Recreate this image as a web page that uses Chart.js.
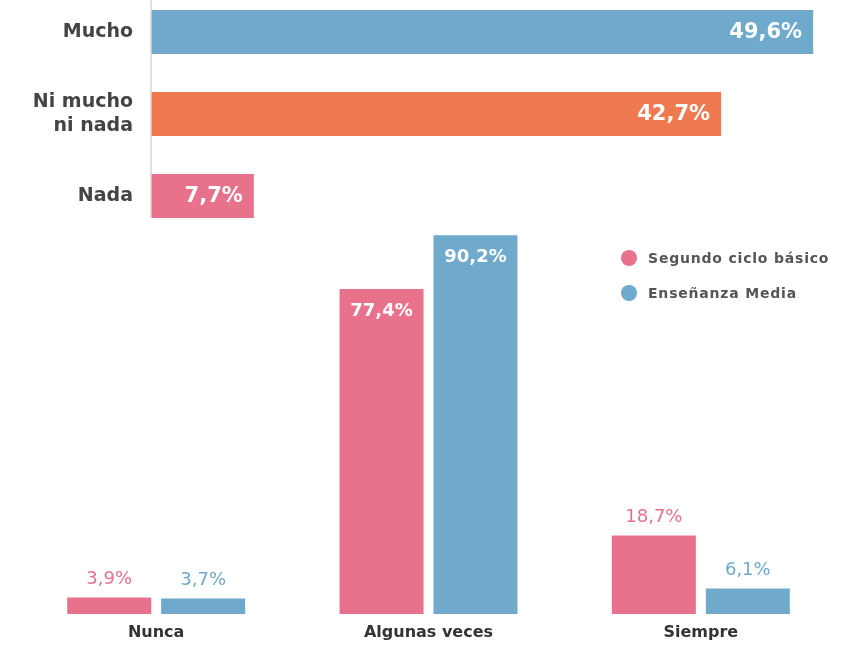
<!DOCTYPE html>
<html>
<head>
<meta charset="utf-8">
<script src="https://cdn.jsdelivr.net/npm/chart.js@4/dist/chart.umd.min.js"></script>
<style>
  body { margin: 0; background: #fff; overflow: hidden; }
  #wrap { position: relative; width: 846px; height: 648px; overflow: hidden; }
  #top { position: absolute; left: 0; top: -10px; }
  #bottom { position: absolute; left: 0; top: 200px; }
  #legend { position: absolute; left: 621px; top: 240px; font-family: 'DejaVu Sans', sans-serif; font-size: 14px; font-weight: bold; letter-spacing: 0.8px; color: #555; }
  #legend div { height: 35px; display: flex; align-items: center; }
  #legend span.dot { display: inline-block; width: 16px; height: 16px; border-radius: 50%; margin-right: 11px; }
</style>
</head>
<body>
<div id="wrap">
  <canvas id="top" width="846" height="250"></canvas>
  <canvas id="bottom" width="846" height="448"></canvas>
  <div id="legend"></div>
</div>
<script>
// top chart
const topLabels = ['Mucho', ['Ni mucho', 'ni nada'], 'Nada'];
const topValues = [49.6, 42.7, 7.7];
const topColors = ['#6fa9cc', '#ef7a50', '#e8728c'];

// bottom chart
const freqLabels = ['Nunca', 'Algunas veces', 'Siempre'];
const basicoValues = [3.9, 77.4, 18.7];
const mediaValues = [3.7, 90.2, 6.1];
const seriesNames = ['Segundo ciclo básico', 'Enseñanza Media'];
const pink = '#e8728c';
const blue = '#6fa9cc';

const FONT = "'DejaVu Sans', sans-serif";

function pct(v) {
  return v.toFixed(1).replace('.', ',') + '%';
}

const topLabelsPlugin = {
  id: 'topLabels',
  afterDatasetsDraw(chart) {
    const ctx = chart.ctx;
    const meta = chart.getDatasetMeta(0);
    ctx.save();
    // axis line down to the last bar
    const last = meta.data[meta.data.length - 1];
    ctx.strokeStyle = '#d6d6d6';
    ctx.lineWidth = 1.5;
    ctx.beginPath();
    ctx.moveTo(chart.chartArea.left, chart.chartArea.top);
    ctx.lineTo(chart.chartArea.left, last.y + last.height / 2);
    ctx.stroke();
    ctx.font = 'bold 21px ' + FONT;
    ctx.fillStyle = '#fff';
    ctx.textAlign = 'right';
    ctx.textBaseline = 'middle';
    meta.data.forEach((bar, i) => {
      ctx.fillText(pct(topValues[i]), bar.x - 11, bar.y + 1);
    });
    ctx.restore();
  }
};

new Chart(document.getElementById('top'), {
  type: 'bar',
  data: {
    labels: topLabels,
    datasets: [{
      data: topValues,
      backgroundColor: topColors,
      barPercentage: 0.537,
      categoryPercentage: 1
    }]
  },
  options: {
    indexAxis: 'y',
    responsive: false,
    animation: false,
    layout: { padding: { top: 1, bottom: 3, right: 27.5 } },
    plugins: { legend: { display: false }, tooltip: { enabled: false } },
    scales: {
      x: { display: false, min: 0, max: 50 },
      y: {
        grid: { display: false, drawTicks: false },
        border: { display: false },
        afterFit(scale) {
          scale.width = 151;
          scale.paddingTop = 0;
          scale.paddingBottom = 0;
        },
        ticks: {
          padding: 18,
          color: '#444',
          font: { family: FONT, size: 19, weight: 'bold', lineHeight: 1.25 }
        }
      }
    }
  },
  plugins: [topLabelsPlugin]
});

const bottomLabelsPlugin = {
  id: 'bottomLabels',
  afterDatasetsDraw(chart) {
    const ctx = chart.ctx;
    ctx.save();
    ctx.textAlign = 'center';
    ctx.textBaseline = 'middle';
    chart.data.datasets.forEach((ds, di) => {
      chart.getDatasetMeta(di).data.forEach((bar, i) => {
        const v = ds.data[i];
        if (v > 50) {
          ctx.font = 'bold 18px ' + FONT;
          ctx.fillStyle = '#fff';
          ctx.fillText(pct(v), bar.x, bar.y + 22);
        } else {
          ctx.font = '18px ' + FONT;
          ctx.fillStyle = ds.backgroundColor;
          ctx.fillText(pct(v), bar.x, bar.y - 18);
        }
      });
    });
    ctx.restore();
  }
};

const bottom = new Chart(document.getElementById('bottom'), {
  type: 'bar',
  data: {
    labels: freqLabels,
    datasets: [
      { label: seriesNames[0], data: basicoValues, backgroundColor: pink, barPercentage: 0.894, categoryPercentage: 0.69 },
      { label: seriesNames[1], data: mediaValues, backgroundColor: blue, barPercentage: 0.894, categoryPercentage: 0.69 }
    ]
  },
  options: {
    responsive: false,
    animation: false,
    layout: { padding: { top: 15, left: 20, right: 9 } },
    plugins: { legend: { display: false }, tooltip: { enabled: false } },
    scales: {
      y: { display: false, min: 0, max: 95 },
      x: {
        grid: { display: false, drawTicks: false },
        border: { display: false },
        afterFit(scale) { scale.height = 34; },
        ticks: {
          padding: 9,
          color: '#333',
          font: { family: FONT, size: 16, weight: 'bold' }
        }
      }
    }
  },
  plugins: [bottomLabelsPlugin]
});

// legend from the datasets
const legend = document.getElementById('legend');
bottom.data.datasets.forEach(ds => {
  const row = document.createElement('div');
  row.innerHTML = '<span class="dot" style="background:' + ds.backgroundColor + '"></span>' + ds.label;
  legend.appendChild(row);
});
</script>
</body>
</html>
